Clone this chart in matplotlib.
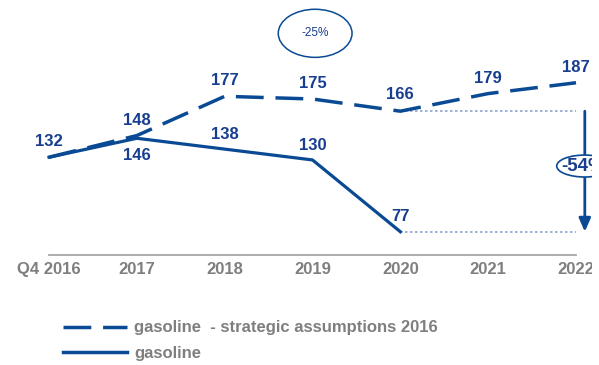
import matplotlib
matplotlib.use("Agg")
import matplotlib.pyplot as plt
from matplotlib.patches import Ellipse
from matplotlib.lines import Line2D

plt.rcParams['font.family'] = ['Liberation Sans', 'DejaVu Sans']

# data
years = ["Q4 2016", "2017", "2018", "2019", "2020", "2021", "2022"]
plan_2016 = [132, 148, 177, 175, 166, 179, 187]
actual = [132, 146, 138, 130, 77]
plan_label = "gasoline  - strategic assumptions 2016"
actual_label = "gasoline"
gap_2020_pct = "-25%"
gap_2022_pct = "-54%"

LINE = "#0A4A94"
TEXT = "#173E8F"
GREY = "#7F7F7F"

fig = plt.figure(figsize=(5.99, 3.65), dpi=100)
# the drawing area stops a few pixels short of the right edge
ax = fig.add_axes([0, 0, 592 / 599, 1])
ax.set_xlim(-0.558, 6.182)
ax.set_ylim(-21.4, 248.1)
ax.axis("off")

x_all = list(range(len(years)))
x_act = list(range(len(actual)))

ax.plot(x_all, plan_2016, color=LINE, lw=2.5, dashes=(8, 3.4),
        solid_capstyle="butt", dash_capstyle="butt", label=plan_label, zorder=3)
ax.plot(x_act, actual, color=LINE, lw=2.3, label=actual_label, zorder=3)

# baseline
base = 60
ax.plot([x_all[0], x_all[-1]], [base, base], color="#A6A6A6", lw=1.3, zorder=1)
for xi, lab in zip(x_all, years):
    ax.text(xi, base - 11, lab, ha="center", va="center", color=GREY,
            fontsize=12, fontweight="bold", clip_on=True)

# value labels
fs = 12
plan_off = [11.5, 11, 11.5, 11.5, 12, 11, 11.5]
for xi, v, dy in zip(x_all, plan_2016, plan_off):
    ax.text(xi, v + dy, str(v), ha="center", va="center", color=TEXT,
            fontsize=fs, fontweight="bold", clip_on=True)
act_off = [0, -13, 11, 11, 11]
for xi, v, dy in zip(x_act, actual, act_off):
    if xi == 0:
        continue
    ax.text(xi, v + dy, str(v), ha="center", va="center", color=TEXT,
            fontsize=fs, fontweight="bold")

# reference lines from 2020 to 2022
x20 = x_act[-1]
x22 = x_all[-1]
ref_kw = dict(color="#8EA3CF", lw=1.2, ls=(0, (1.5, 1.5)), zorder=2)
ax.plot([x20, x22], [plan_2016[4], plan_2016[4]], **ref_kw)
ax.plot([x20, x22], [actual[-1], actual[-1]], **ref_kw)

# gap arrow at 2022
xa = x22 + 0.1
ax.annotate("", xy=(xa, actual[-1]), xytext=(xa, plan_2016[4]),
            arrowprops=dict(arrowstyle="-|>,head_length=0.8,head_width=0.35",
                            color=LINE, lw=2.0, shrinkA=0, shrinkB=0), zorder=4)
ya = 125.5
ax.add_patch(Ellipse((xa, ya), 0.64, 16.2, facecolor="white",
                     edgecolor=LINE, lw=1.2, zorder=5))
ax.text(5.83, ya, gap_2022_pct, ha="left", va="center", color=TEXT,
        fontsize=13.5, fontweight="bold", zorder=6, clip_on=True)

# percentage bubble above 2019
ax.add_patch(Ellipse((3.03, 223.5), 0.84, 35.5, facecolor="white",
                     edgecolor=LINE, lw=1.1, zorder=5))
ax.text(3.03, 223.5, gap_2020_pct, ha="center", va="center", color=TEXT,
        fontsize=8.5, zorder=6)

# legend
handles = [Line2D([], [], color=LINE, lw=2.5, dashes=(8, 3.4)),
           Line2D([], [], color=LINE, lw=2.5)]
leg = ax.legend(handles, [plan_label, actual_label], loc="upper left",
                bbox_to_anchor=(63 / 592, 0.122), frameon=False,
                prop=dict(size=12, weight="bold"), labelcolor=GREY,
                handlelength=3.84, handletextpad=0.42, labelspacing=0.63,
                borderpad=0, borderaxespad=0)

fig.savefig("out.png", dpi=100)
